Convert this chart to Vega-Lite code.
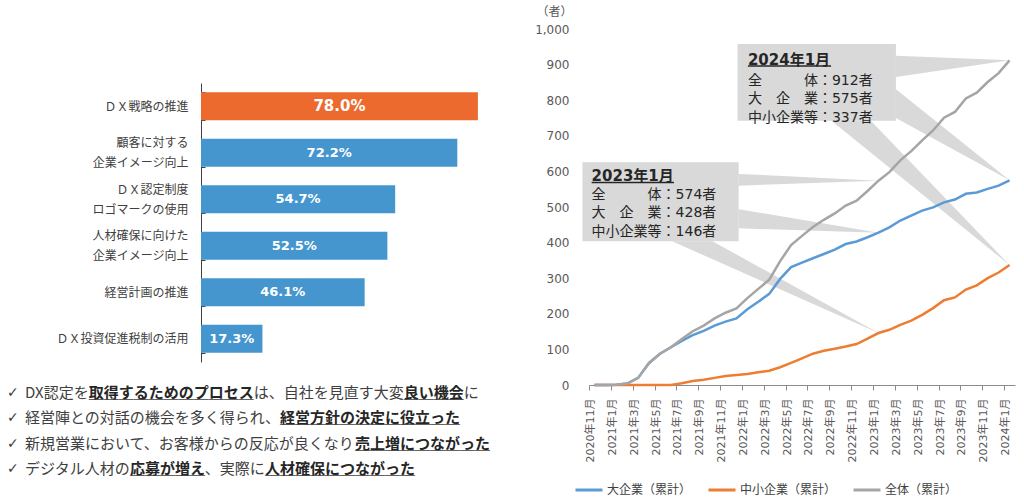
{
  "$schema": "https://vega.github.io/schema/vega-lite/v6.json",
  "padding": {"left": 7, "top": 5, "right": 5, "bottom": 0},
  "background": "white",
  "spacing": 43,
  "config": {"view": {"stroke": null}, "font": "Noto Sans CJK JP"},
  "resolve": {"scale": {"color": "independent"}, "legend": {"color": "independent"}},
  "datasets": {
    "bars": [
      {"item": "ＤＸ戦略の推進", "pct": 0.780},
      {"item": "顧客に対する\n企業イメージ向上", "pct": 0.722},
      {"item": "ＤＸ認定制度\nロゴマークの使用", "pct": 0.547},
      {"item": "人材確保に向けた\n企業イメージ向上", "pct": 0.525},
      {"item": "経営計画の推進", "pct": 0.461},
      {"item": "ＤＸ投資促進税制の活用", "pct": 0.173}
    ],
    "notes": [
      {"line": 1,
       "plain": "DX認定を\u3000\u3000\u3000\u3000\u3000\u3000\u3000\u3000\u3000\u3000\u3000は、自社を見直す大変\u3000\u3000\u3000\u3000に",
       "bold": "\u200b\u3000\u2005\u3000\u3000\u3000取得するためのプロセス\u3000\u3000\u3000\u3000\u3000\u3000\u3000\u3000\u3000\u3000良い機会",
       "ul": "\u200b\u3000\u2005\u3000\u3000\u3000＿＿＿＿＿＿＿＿＿＿＿\u3000\u3000\u3000\u3000\u3000\u3000\u3000\u3000\u3000\u3000＿＿＿＿"},
      {"line": 2,
       "plain": "経営陣との対話の機会を多く得られ、",
       "bold": "\u200b\u3000\u3000\u3000\u3000\u3000\u3000\u3000\u3000\u3000\u3000\u3000\u3000\u3000\u3000\u3000\u3000\u3000経営方針の決定に役立った",
       "ul": "\u200b\u3000\u3000\u3000\u3000\u3000\u3000\u3000\u3000\u3000\u3000\u3000\u3000\u3000\u3000\u3000\u3000\u3000＿＿＿＿＿＿＿＿＿＿＿＿"},
      {"line": 3,
       "plain": "新規営業において、お客様からの反応が良くなり",
       "bold": "\u200b\u3000\u3000\u3000\u3000\u3000\u3000\u3000\u3000\u3000\u3000\u3000\u3000\u3000\u3000\u3000\u3000\u3000\u3000\u3000\u3000\u3000\u3000売上増につながった",
       "ul": "\u200b\u3000\u3000\u3000\u3000\u3000\u3000\u3000\u3000\u3000\u3000\u3000\u3000\u3000\u3000\u3000\u3000\u3000\u3000\u3000\u3000\u3000\u3000＿＿＿＿＿＿＿＿＿"},
      {"line": 4,
       "plain": "デジタル人材の\u3000\u3000\u3000\u3000\u3000、実際に",
       "bold": "\u200b\u3000\u3000\u3000\u3000\u3000\u3000\u3000応募が増え\u3000\u3000\u3000\u3000人材確保につながった",
       "ul": "\u200b\u3000\u3000\u3000\u3000\u3000\u3000\u3000＿＿＿＿＿\u3000\u3000\u3000\u3000＿＿＿＿＿＿＿＿＿＿"}
    ],
    "series": [
      {"m": 0, "s": "大企業（累計）", "v": 0}, {"m": 1, "s": "大企業（累計）", "v": 0}, {"m": 2, "s": "大企業（累計）", "v": 1}, {"m": 3, "s": "大企業（累計）", "v": 4}, {"m": 4, "s": "大企業（累計）", "v": 20},
      {"m": 5, "s": "大企業（累計）", "v": 62}, {"m": 6, "s": "大企業（累計）", "v": 88}, {"m": 7, "s": "大企業（累計）", "v": 106}, {"m": 8, "s": "大企業（累計）", "v": 124}, {"m": 9, "s": "大企業（累計）", "v": 140},
      {"m": 10, "s": "大企業（累計）", "v": 152}, {"m": 11, "s": "大企業（累計）", "v": 167}, {"m": 12, "s": "大企業（累計）", "v": 178}, {"m": 13, "s": "大企業（累計）", "v": 187}, {"m": 14, "s": "大企業（累計）", "v": 213},
      {"m": 15, "s": "大企業（累計）", "v": 234}, {"m": 16, "s": "大企業（累計）", "v": 256}, {"m": 17, "s": "大企業（累計）", "v": 298}, {"m": 18, "s": "大企業（累計）", "v": 331}, {"m": 19, "s": "大企業（累計）", "v": 344},
      {"m": 20, "s": "大企業（累計）", "v": 356}, {"m": 21, "s": "大企業（累計）", "v": 368}, {"m": 22, "s": "大企業（累計）", "v": 380}, {"m": 23, "s": "大企業（累計）", "v": 396}, {"m": 24, "s": "大企業（累計）", "v": 403},
      {"m": 25, "s": "大企業（累計）", "v": 415}, {"m": 26, "s": "大企業（累計）", "v": 428}, {"m": 27, "s": "大企業（累計）", "v": 443}, {"m": 28, "s": "大企業（累計）", "v": 462}, {"m": 29, "s": "大企業（累計）", "v": 476},
      {"m": 30, "s": "大企業（累計）", "v": 490}, {"m": 31, "s": "大企業（累計）", "v": 499}, {"m": 32, "s": "大企業（累計）", "v": 513}, {"m": 33, "s": "大企業（累計）", "v": 521}, {"m": 34, "s": "大企業（累計）", "v": 537},
      {"m": 35, "s": "大企業（累計）", "v": 541}, {"m": 36, "s": "大企業（累計）", "v": 551}, {"m": 37, "s": "大企業（累計）", "v": 560}, {"m": 38, "s": "大企業（累計）", "v": 575},
      {"m": 0, "s": "中小企業（累計）", "v": 0}, {"m": 1, "s": "中小企業（累計）", "v": 0}, {"m": 2, "s": "中小企業（累計）", "v": 0}, {"m": 3, "s": "中小企業（累計）", "v": 0}, {"m": 4, "s": "中小企業（累計）", "v": 0},
      {"m": 5, "s": "中小企業（累計）", "v": 0}, {"m": 6, "s": "中小企業（累計）", "v": 0}, {"m": 7, "s": "中小企業（累計）", "v": 0}, {"m": 8, "s": "中小企業（累計）", "v": 5}, {"m": 9, "s": "中小企業（累計）", "v": 11},
      {"m": 10, "s": "中小企業（累計）", "v": 15}, {"m": 11, "s": "中小企業（累計）", "v": 20}, {"m": 12, "s": "中小企業（累計）", "v": 25}, {"m": 13, "s": "中小企業（累計）", "v": 28}, {"m": 14, "s": "中小企業（累計）", "v": 31},
      {"m": 15, "s": "中小企業（累計）", "v": 36}, {"m": 16, "s": "中小企業（累計）", "v": 40}, {"m": 17, "s": "中小企業（累計）", "v": 50}, {"m": 18, "s": "中小企業（累計）", "v": 62}, {"m": 19, "s": "中小企業（累計）", "v": 75},
      {"m": 20, "s": "中小企業（累計）", "v": 88}, {"m": 21, "s": "中小企業（累計）", "v": 96}, {"m": 22, "s": "中小企業（累計）", "v": 102}, {"m": 23, "s": "中小企業（累計）", "v": 108}, {"m": 24, "s": "中小企業（累計）", "v": 115},
      {"m": 25, "s": "中小企業（累計）", "v": 130}, {"m": 26, "s": "中小企業（累計）", "v": 146}, {"m": 27, "s": "中小企業（累計）", "v": 155}, {"m": 28, "s": "中小企業（累計）", "v": 169}, {"m": 29, "s": "中小企業（累計）", "v": 181},
      {"m": 30, "s": "中小企業（累計）", "v": 197}, {"m": 31, "s": "中小企業（累計）", "v": 216}, {"m": 32, "s": "中小企業（累計）", "v": 238}, {"m": 33, "s": "中小企業（累計）", "v": 246}, {"m": 34, "s": "中小企業（累計）", "v": 268},
      {"m": 35, "s": "中小企業（累計）", "v": 280}, {"m": 36, "s": "中小企業（累計）", "v": 300}, {"m": 37, "s": "中小企業（累計）", "v": 316}, {"m": 38, "s": "中小企業（累計）", "v": 337},
      {"m": 0, "s": "全体（累計）", "v": 0}, {"m": 1, "s": "全体（累計）", "v": 0}, {"m": 2, "s": "全体（累計）", "v": 1}, {"m": 3, "s": "全体（累計）", "v": 4}, {"m": 4, "s": "全体（累計）", "v": 20},
      {"m": 5, "s": "全体（累計）", "v": 62}, {"m": 6, "s": "全体（累計）", "v": 88}, {"m": 7, "s": "全体（累計）", "v": 106}, {"m": 8, "s": "全体（累計）", "v": 129}, {"m": 9, "s": "全体（累計）", "v": 151},
      {"m": 10, "s": "全体（累計）", "v": 167}, {"m": 11, "s": "全体（累計）", "v": 187}, {"m": 12, "s": "全体（累計）", "v": 203}, {"m": 13, "s": "全体（累計）", "v": 215}, {"m": 14, "s": "全体（累計）", "v": 244},
      {"m": 15, "s": "全体（累計）", "v": 270}, {"m": 16, "s": "全体（累計）", "v": 296}, {"m": 17, "s": "全体（累計）", "v": 348}, {"m": 18, "s": "全体（累計）", "v": 393}, {"m": 19, "s": "全体（累計）", "v": 419},
      {"m": 20, "s": "全体（累計）", "v": 444}, {"m": 21, "s": "全体（累計）", "v": 464}, {"m": 22, "s": "全体（累計）", "v": 482}, {"m": 23, "s": "全体（累計）", "v": 504}, {"m": 24, "s": "全体（累計）", "v": 518},
      {"m": 25, "s": "全体（累計）", "v": 545}, {"m": 26, "s": "全体（累計）", "v": 574}, {"m": 27, "s": "全体（累計）", "v": 598}, {"m": 28, "s": "全体（累計）", "v": 631}, {"m": 29, "s": "全体（累計）", "v": 657},
      {"m": 30, "s": "全体（累計）", "v": 687}, {"m": 31, "s": "全体（累計）", "v": 715}, {"m": 32, "s": "全体（累計）", "v": 751}, {"m": 33, "s": "全体（累計）", "v": 767}, {"m": 34, "s": "全体（累計）", "v": 805},
      {"m": 35, "s": "全体（累計）", "v": 821}, {"m": 36, "s": "全体（累計）", "v": 851}, {"m": 37, "s": "全体（累計）", "v": 876}, {"m": 38, "s": "全体（累計）", "v": 912}
    ],
    "boxes": [
      {"title": "2024年1月", "x": 13.1, "x2": 27.6, "y": 958, "y2": 742, "tx": 14.05, "ty": 913, "ux": 21.66, "uy": 896, "by": 855,
       "body": ["全\u3000\u3000\u3000体：912者", "大\u3000企\u3000業：575者", "中小企業等：337者"]},
      {"title": "2023年1月", "x": -1.1, "x2": 13.2, "y": 626, "y2": 404, "tx": -0.26, "ty": 588, "ux": 7.28, "uy": 569, "by": 535,
       "body": ["全\u3000\u3000\u3000体：574者", "大\u3000企\u3000業：428者", "中小企業等：146者"]}
    ],
    "wedgesV": [
      {"id": "a", "x": 27.6, "y": 925, "y2": 865}, {"id": "a", "x": 38, "y": 912, "y2": 912},
      {"id": "b", "x": 27.6, "y": 831, "y2": 750}, {"id": "b", "x": 38, "y": 575, "y2": 575},
      {"id": "c", "x": 13.2, "y": 593, "y2": 560}, {"id": "c", "x": 26, "y": 574, "y2": 574},
      {"id": "d", "x": 13.2, "y": 494, "y2": 440}, {"id": "d", "x": 26, "y": 428, "y2": 428}
    ],
    "wedgesH": [
      {"id": "e", "y": 742, "x": 21.7, "x2": 25.3}, {"id": "e", "y": 337, "x": 38, "x2": 38},
      {"id": "f", "y": 404, "x": 7.1, "x2": 10.8}, {"id": "f", "y": 146, "x": 26, "x2": 26}
    ]
  },
  "hconcat": [
    {
      "width": 284,
      "height": 333,
      "layer": [
        {
          "data": {"name": "bars"},
          "mark": {"type": "bar"},
          "encoding": {
            "y": {"field": "item", "type": "nominal", "sort": null,
              "scale": {"range": [54, 333], "paddingInner": 0.4, "paddingOuter": 0.2},
              "axis": {"title": null, "orient": "left", "labelExpr": "split(datum.label, '\\n')", "labelFont": "Noto Sans CJK JP", "labelFontSize": 12, "labelColor": "#404040", "labelLineHeight": 20, "labelPadding": 17, "labelLimit": 300,
                "labelOffset": {"condition": {"test": "indexof(datum.label, '\\n') >= 0", "value": -10}, "value": 0},
                "tickBand": "extent", "ticks": true, "tickSize": -4, "tickWidth": 1, "tickColor": "#404040", "domain": true, "domainWidth": 1, "domainColor": "#404040", "grid": false}},
            "x": {"field": "pct", "type": "quantitative", "scale": {"domain": [0, 0.8]}, "axis": null},
            "color": {"condition": {"test": "datum.pct >= 0.78", "value": "#ED6A2E"}, "value": "#4596CE"}
          }
        },
        {
          "data": {"name": "bars"},
          "mark": {"type": "text", "font": "DejaVu Sans", "fontWeight": "bold", "color": "white", "align": "center", "baseline": "middle"},
          "encoding": {
            "y": {"field": "item", "type": "nominal", "sort": null,
              "scale": {"range": [54, 333], "paddingInner": 0.4, "paddingOuter": 0.2}, "axis": null},
            "x": {"field": "pct", "type": "quantitative", "scale": {"domain": [0, 1.6]}, "axis": null},
            "text": {"field": "pct", "format": ".1%"},
            "size": {"condition": {"test": "datum.pct >= 0.78", "value": 15}, "value": 13}
          }
        },
        {
          "data": {"name": "notes"},
          "mark": {"type": "text", "text": "✓", "font": "DejaVu Sans", "fontSize": 14, "color": "#404040", "align": "left", "baseline": "middle"},
          "encoding": {
            "x": {"datum": 0, "type": "quantitative", "scale": {"domain": [0, 1], "range": [-194, -176]}, "axis": null},
            "y": {"field": "line", "type": "ordinal", "scale": {"type": "point", "range": [364, 440], "padding": 0}, "axis": null}
          }
        },
        {
          "data": {"name": "notes"},
          "mark": {"type": "text", "font": "Noto Sans CJK JP", "fontSize": 15, "color": "#404040", "align": "left", "baseline": "middle"},
          "encoding": {
            "x": {"datum": 1, "type": "quantitative", "scale": {"domain": [0, 1], "range": [-194, -176]}, "axis": null},
            "y": {"field": "line", "type": "ordinal", "scale": {"type": "point", "range": [364, 440], "padding": 0}, "axis": null},
            "text": {"field": "plain"}
          }
        },
        {
          "data": {"name": "notes"},
          "mark": {"type": "text", "font": "Noto Sans CJK JP", "fontSize": 15, "fontWeight": "bold", "color": "#262626", "align": "left", "baseline": "middle"},
          "encoding": {
            "x": {"datum": 1, "type": "quantitative", "scale": {"domain": [0, 1], "range": [-194, -176]}, "axis": null},
            "y": {"field": "line", "type": "ordinal", "scale": {"type": "point", "range": [364, 440], "padding": 0}, "axis": null},
            "text": {"field": "bold"}
          }
        },
        {
          "data": {"name": "notes"},
          "mark": {"type": "text", "font": "Noto Sans CJK JP", "fontSize": 15, "fontWeight": "bold", "color": "#404040", "align": "left", "baseline": "middle"},
          "encoding": {
            "x": {"datum": 1, "type": "quantitative", "scale": {"domain": [0, 1], "range": [-194, -176]}, "axis": null},
            "y": {"field": "line", "type": "ordinal", "scale": {"type": "point", "range": [364, 440], "padding": 0}, "axis": null},
            "text": {"field": "ul"}
          }
        }
      ],
      "resolve": {"scale": {"x": "independent", "y": "independent"}, "axis": {"x": "independent", "y": "independent"}}
    },
    {
      "width": 426,
      "height": 356,
      "layer": [
        {
          "data": {"name": "wedgesV"},
          "mark": {"type": "area", "color": "#d9d9d9", "opacity": 1},
          "encoding": {
            "x": {"field": "x", "type": "quantitative", "scale": {"domain": [-0.5, 38.5], "nice": false, "zero": false},
              "axis": {"orient": "bottom", "values": [-0.5, 1.5, 3.5, 5.5, 7.5, 9.5, 11.5, 13.5, 15.5, 17.5, 19.5, 21.5, 23.5, 25.5, 27.5, 29.5, 31.5, 33.5, 35.5, 37.5], "labels": false, "ticks": true, "tickSize": 5, "tickColor": "#8c8c8c", "domainColor": "#8c8c8c", "grid": false, "title": null}},
            "y": {"field": "y", "type": "quantitative", "scale": {"domain": [0, 1000], "nice": false}, "axis": null},
            "y2": {"field": "y2"},
            "detail": {"field": "id"}
          }
        },
        {
          "data": {"name": "wedgesH"},
          "mark": {"type": "area", "orient": "horizontal", "color": "#d9d9d9", "opacity": 1},
          "encoding": {
            "y": {"field": "y", "type": "quantitative", "scale": {"domain": [0, 1000], "nice": false}, "axis": null},
            "x": {"field": "x", "type": "quantitative", "scale": {"domain": [-0.5, 38.5], "nice": false, "zero": false}, "axis": null},
            "x2": {"field": "x2"},
            "detail": {"field": "id"}
          }
        },
        {
          "data": {"name": "boxes"},
          "mark": {"type": "rect", "color": "#d9d9d9"},
          "encoding": {
            "x": {"field": "x", "type": "quantitative", "scale": {"domain": [-0.5, 38.5], "nice": false, "zero": false}, "axis": null},
            "x2": {"field": "x2"},
            "y": {"field": "y", "type": "quantitative", "scale": {"domain": [0, 1000], "nice": false}, "axis": null},
            "y2": {"field": "y2"}
          }
        },
        {
          "data": {"name": "series"},
          "mark": {"type": "line", "strokeWidth": 2.5},
          "encoding": {
            "x": {"field": "m", "type": "quantitative", "scale": {"domain": [-0.5, 38.5], "nice": false, "zero": false},
              "axis": {"orient": "bottom", "values": [0, 2, 4, 6, 8, 10, 12, 14, 16, 18, 20, 22, 24, 26, 28, 30, 32, 34, 36, 38],
                "labelExpr": "(2020 + floor((datum.value + 10) / 12)) + '年' + ((datum.value + 10) % 12 + 1) + '月'",
                "labelAngle": -90, "labelOverlap": false, "labelBound": false, "labelOffset": -4, "ticks": false, "domain": false, "grid": false, "title": null,
                "labelFont": "DejaVu Sans, Noto Sans CJK JP", "labelFontSize": 11, "labelColor": "#595959", "labelPadding": 13}},
            "y": {"field": "v", "type": "quantitative", "scale": {"domain": [0, 1000], "nice": false},
              "axis": {"orient": "left", "values": [0, 100, 200, 300, 400, 500, 600, 700, 800, 900, 1000], "labelExpr": "format(datum.value, ',')", "grid": false, "ticks": false, "domain": false,
                "labelFont": "DejaVu Sans", "labelFontSize": 12, "labelColor": "#595959", "labelPadding": 20,
                "title": "（者）", "titleAngle": 0, "titleAlign": "center", "titleBaseline": "middle", "titleX": -35, "titleY": -18,
                "titleFont": "Noto Sans CJK JP", "titleFontSize": 12, "titleFontWeight": "normal", "titleColor": "#595959"}},
            "color": {"field": "s", "type": "nominal", "sort": null,
              "scale": {"domain": ["大企業（累計）", "中小企業（累計）", "全体（累計）"], "range": ["#5B9BD5", "#ED7D31", "#A5A5A5"]},
              "legend": {"title": null, "orient": "none", "legendX": -15, "legendY": 446, "direction": "horizontal", "gridAlign": "each", "symbolType": "stroke", "symbolSize": 729, "symbolStrokeWidth": 3,
                "labelFont": "Noto Sans CJK JP", "labelFontSize": 12, "labelColor": "#404040", "columnPadding": 10, "labelOffset": 3}}
          }
        },
        {
          "data": {"name": "boxes"},
          "mark": {"type": "text", "font": "DejaVu Sans, Noto Sans CJK JP", "fontSize": 15, "fontWeight": "bold", "color": "#262626", "align": "left", "baseline": "middle"},
          "encoding": {
            "x": {"field": "tx", "type": "quantitative", "scale": {"domain": [-0.5, 38.5], "nice": false, "zero": false}, "axis": null},
            "y": {"field": "ty", "type": "quantitative", "scale": {"domain": [0, 1000], "nice": false}, "axis": null},
            "text": {"field": "title"}
          }
        },
        {
          "data": {"name": "boxes"},
          "mark": {"type": "rule", "strokeWidth": 1.5, "color": "#262626"},
          "encoding": {
            "x": {"field": "tx", "type": "quantitative", "scale": {"domain": [-0.5, 38.5], "nice": false, "zero": false}, "axis": null},
            "x2": {"field": "ux"},
            "y": {"field": "uy", "type": "quantitative", "scale": {"domain": [0, 1000], "nice": false}, "axis": null}
          }
        },
        {
          "data": {"name": "boxes"},
          "mark": {"type": "text", "font": "DejaVu Sans, Noto Sans CJK JP", "fontSize": 14, "lineHeight": 18.5, "color": "#262626", "align": "left", "baseline": "middle"},
          "encoding": {
            "x": {"field": "tx", "type": "quantitative", "scale": {"domain": [-0.5, 38.5], "nice": false, "zero": false}, "axis": null},
            "y": {"field": "by", "type": "quantitative", "scale": {"domain": [0, 1000], "nice": false}, "axis": null},
            "text": {"field": "body"}
          }
        }
      ],
      "resolve": {"axis": {"x": "independent", "y": "independent"}}
    }
  ]
}
